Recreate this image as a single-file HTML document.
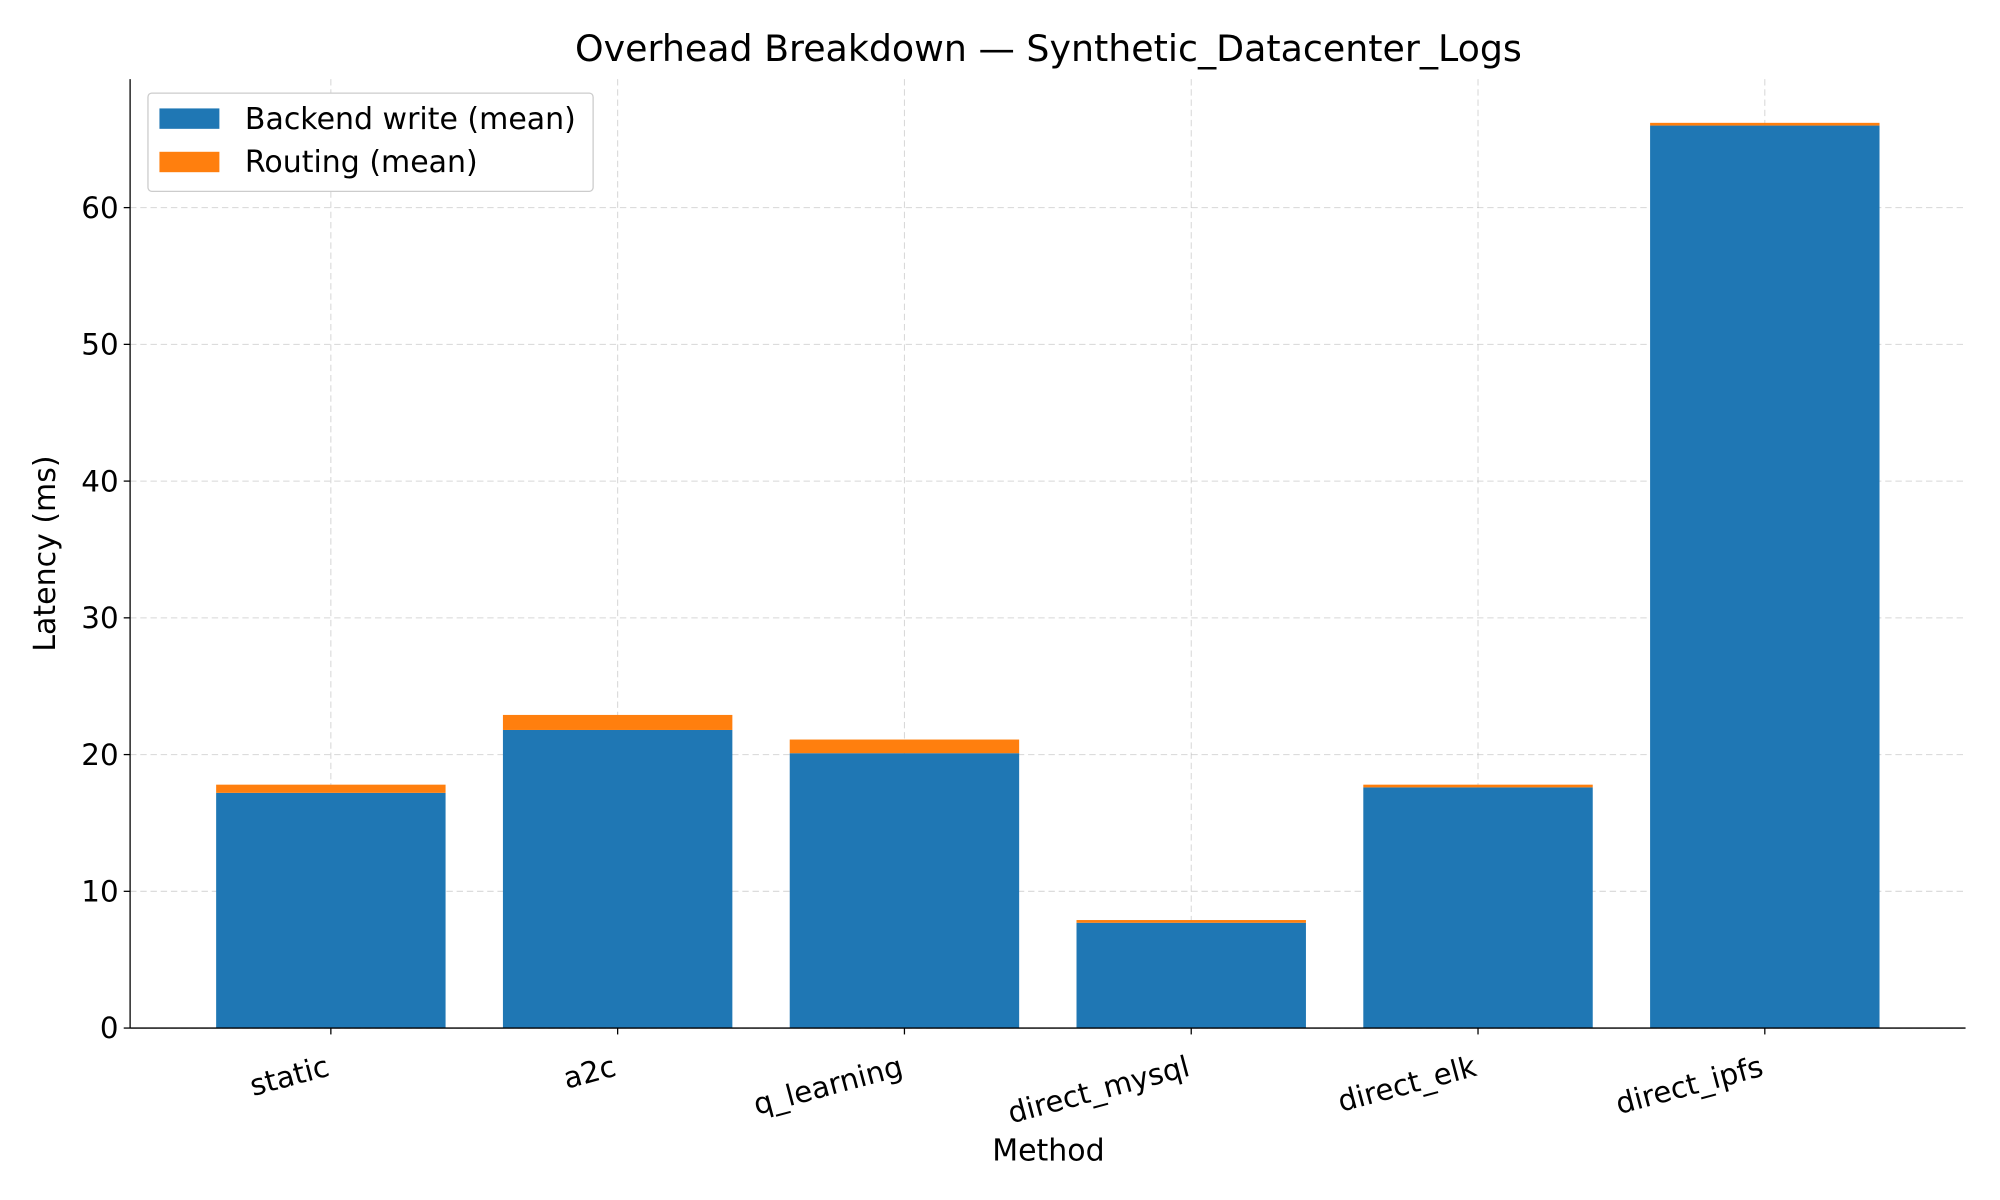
<!DOCTYPE html>
<html><head><meta charset="utf-8">
<style>
html,body{margin:0;padding:0;background:#fff;}
svg{display:block;font-family:"DejaVu Sans","Liberation Sans",sans-serif;}
</style></head>
<body>
<svg id="chart" width="2000" height="1200" viewBox="0 0 1568 940.8" xmlns="http://www.w3.org/2000/svg">
<rect width="1568" height="940.8" fill="#fff"/>
<g id="grid"></g>
<g id="bars"></g>
<g id="axes"></g>
<text x="822" y="48" font-size="28.5" text-anchor="middle" fill="#000">Overhead Breakdown — Synthetic_Datacenter_Logs</text>
<text x="822" y="910" font-size="23.5" text-anchor="middle" fill="#000">Method</text>
<text transform="translate(43,434) rotate(-90)" font-size="23.5" text-anchor="middle" fill="#000">Latency (ms)</text>
<g>
<rect x="116" y="73" width="349" height="77" rx="3" fill="#fff" stroke="#ccc" stroke-width="1"/>
<rect x="125" y="85" width="47" height="16" fill="#1f77b4"/>
<text x="192" y="101" font-size="23.5">Backend write (mean)</text>
<rect x="125" y="119" width="47" height="16" fill="#ff7f0e"/>
<text x="192" y="135" font-size="23.5">Routing (mean)</text>
</g>
</svg>
<script>
const categories = ["static","a2c","q_learning","direct_mysql","direct_elk","direct_ipfs"];
const backendValues = [17.2, 21.8, 20.1, 7.7, 17.6, 66.0];
const routingValues = [0.6, 1.1, 1.0, 0.2, 0.2, 0.2];
const yTicks = [0,10,20,30,40,50,60];

const L=102, R=1541, T=62, B=806;
const xMin=-0.7, xMax=5.7, yMin=0, yMax=69.4;
const xs = v => L + (v - xMin) / (xMax - xMin) * (R - L);
const ys = v => B - (v - yMin) / (yMax - yMin) * (B - T);
const NS="http://www.w3.org/2000/svg";
function mk(tag, attrs, parent){const e=document.createElementNS(NS,tag);for(const k in attrs)e.setAttribute(k,attrs[k]);parent.appendChild(e);return e;}
const grid=document.getElementById('grid'), bars=document.getElementById('bars'), axes=document.getElementById('axes');

yTicks.forEach(t=>{
  const g=mk('line',{x1:L,x2:R,y1:ys(t),y2:ys(t),stroke:'#b0b0b0','stroke-width':0.8,'stroke-dasharray':'5,3','stroke-opacity':0.5},grid);
  
  
  const tk=mk('line',{x1:L-5,x2:L,y1:ys(t),y2:ys(t),stroke:'#000','stroke-width':1},axes);
  
  
  const lb=mk('text',{x:L-9,y:ys(t)+8,'font-size':23,'text-anchor':'end'},axes);
  lb.textContent=t;
  
  
});
categories.forEach((c,i)=>{
  const cx=xs(i);
  const g=mk('line',{x1:cx,x2:cx,y1:T,y2:B,stroke:'#b0b0b0','stroke-width':0.8,'stroke-dasharray':'5,3','stroke-opacity':0.5},grid);
  
  
  const w=xs(i+0.4)-xs(i-0.4);
  const b=mk('rect',{x:xs(i-0.4),width:w,y:ys(backendValues[i]),height:ys(0)-ys(backendValues[i]),fill:'#1f77b4'},bars);
  
  
  const top=backendValues[i]+routingValues[i];
  const r=mk('rect',{x:xs(i-0.4),width:w,y:ys(top),height:ys(backendValues[i])-ys(top),fill:'#ff7f0e'},bars);
  
  
  const tk=mk('line',{x1:cx,x2:cx,y1:B,y2:B+5,stroke:'#000','stroke-width':1},axes);
  
  
  const lb=mk('text',{transform:`translate(${cx},${B+37}) rotate(-15)`,'font-size':23,'text-anchor':'end'},axes);
  lb.textContent=c;
  
  
});
const ls=mk('line',{x1:L,x2:L,y1:T,y2:B,stroke:'#000','stroke-width':1},axes);


const bs=mk('line',{x1:L,x2:R,y1:B,y2:B,stroke:'#000','stroke-width':1},axes);


</script>
</body></html>
